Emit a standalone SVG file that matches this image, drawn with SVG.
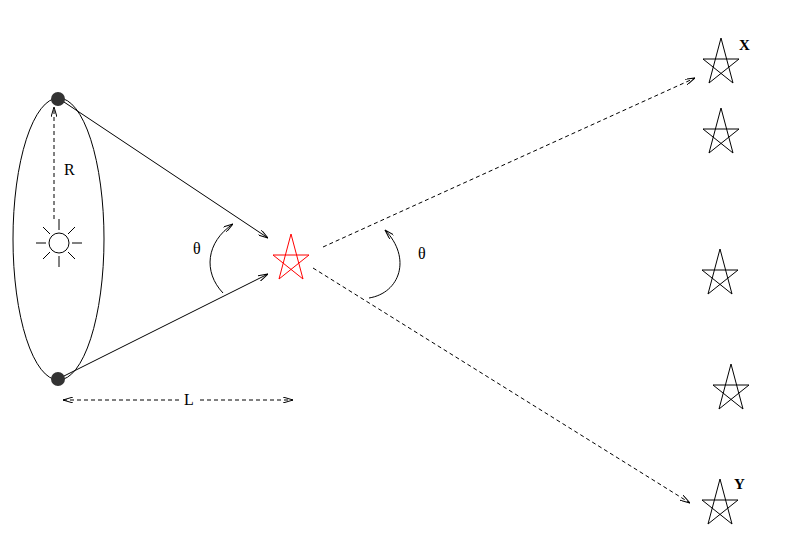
<svg xmlns="http://www.w3.org/2000/svg" width="805" height="538" viewBox="0 0 805 538">
<style>
.l{fill:none;stroke:#000;stroke-width:1}
.d{fill:none;stroke:#000;stroke-width:1;stroke-dasharray:4,3}
.t{font-family:"Liberation Serif",serif;font-size:16px;fill:#000}
.b{font-family:"Liberation Serif",serif;font-size:15px;font-weight:bold;fill:#000}
</style>
<defs>
<marker id="a" viewBox="0 0 10 6" refX="10" refY="3" markerWidth="10" markerHeight="6" orient="auto-start-reverse" markerUnits="userSpaceOnUse"><path d="M0,0 L10,3 L0,6" fill="none" stroke="#000"/></marker>
<path id="s" d="M0,-21 L12,24 L-18,0 L18,0 L-12,24 Z" fill="none" stroke-width="1"/>
</defs>
<rect width="805" height="538" fill="#fff"/>
<g id="orbit">
<ellipse class="l" cx="58.5" cy="239" rx="45.5" ry="141"/>
<circle cx="58" cy="99" r="7" fill="#333"/>
<circle cx="58" cy="379" r="7" fill="#333"/>
</g>
<g id="sun" stroke="#000">
<circle cx="59" cy="243" r="10" fill="#fff"/>
<path d="M59,230V219M59,256V267M46,243H36M72,243H82M50,234L43,227M68,234L75,227M50,252L43,259M68,252L75,259"/>
</g>
<g id="star-red"><use href="#s" x="291" y="255" stroke="#f00"/></g>
<g id="star-x"><use href="#s" x="721" y="59" stroke="#000"/></g>
<g id="star-2"><use href="#s" x="721" y="129" stroke="#000"/></g>
<g id="star-3"><use href="#s" x="720" y="270" stroke="#000"/></g>
<g id="star-4"><use href="#s" x="731" y="385" stroke="#000"/></g>
<g id="star-y"><use href="#s" x="720" y="500" stroke="#000"/></g>
<g id="connectors">
<path class="d" d="M54,219V107" marker-end="url(#a)"/>
<path class="l" d="M64,102L268,238" marker-end="url(#a)"/>
<path class="l" d="M64,376L268,274" marker-end="url(#a)"/>
<path class="l" d="M223,293C203,272 206,242 233,224" marker-end="url(#a)"/>
<path class="l" d="M369,298C400,293 412,258 385,230" marker-end="url(#a)"/>
<path class="d" d="M323,247L695,78" marker-end="url(#a)"/>
<path class="d" d="M313,268L690,503" marker-end="url(#a)"/>
<path class="d" d="M63,400H180" marker-start="url(#a)"/>
<path class="d" d="M200,400H293" marker-end="url(#a)"/>
</g>
<g id="labels">
<text class="t" x="64" y="175">R</text>
<text class="t" x="193" y="254">θ</text>
<text class="t" x="418" y="259">θ</text>
<text class="t" x="184" y="405">L</text>
<text class="b" x="739" y="50">X</text>
<text class="b" x="734" y="489">Y</text>
</g>
</svg>
